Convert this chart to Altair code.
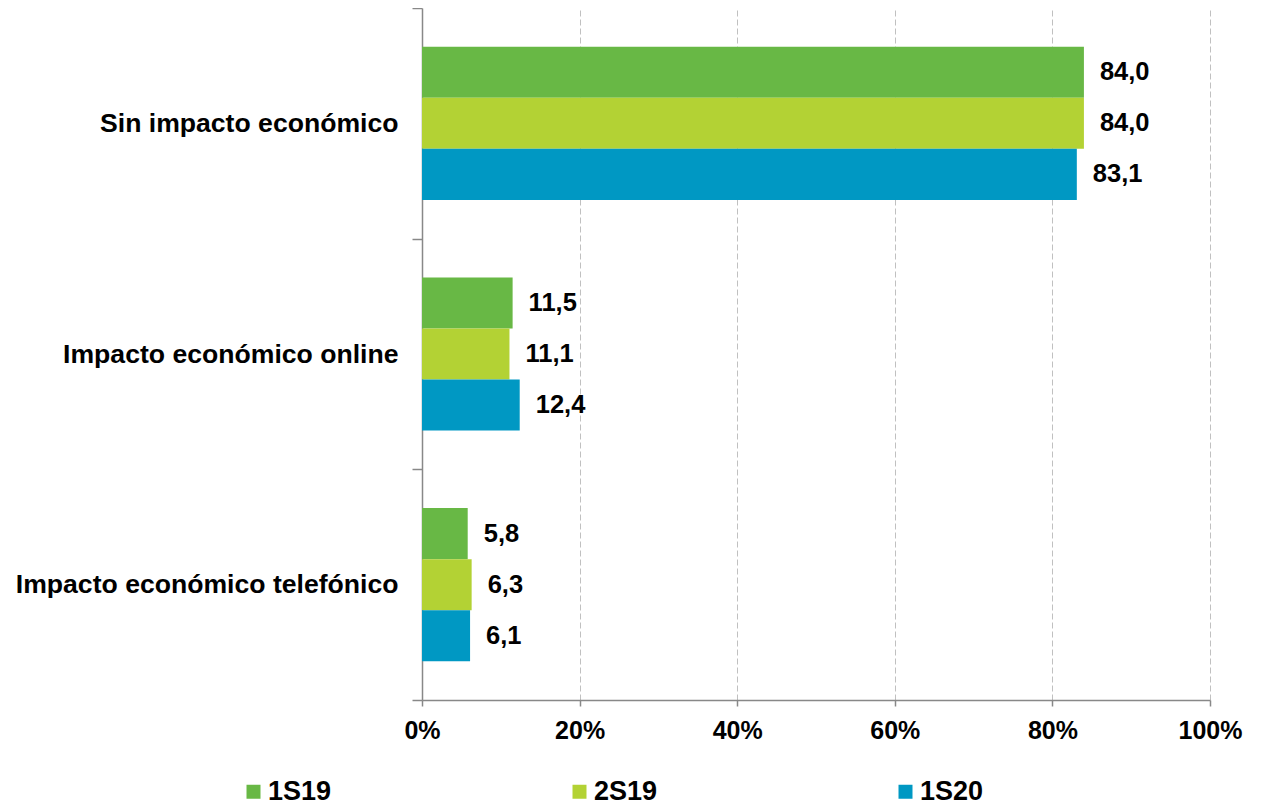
import altair as alt
import pandas as pd

categories = ["Sin impacto económico", "Impacto económico online", "Impacto económico telefónico"]
series = ["1S19", "2S19", "1S20"]
values_1S19 = [84.0, 11.5, 5.8]
values_2S19 = [84.0, 11.1, 6.3]
values_1S20 = [83.1, 12.4, 6.1]
colors = ["#68b845", "#b3d234", "#0098c3"]
x_ticks = [0, 20, 40, 60, 80, 100]

rows = []
for s, vals in zip(series, [values_1S19, values_2S19, values_1S20]):
    for c, v in zip(categories, vals):
        rows.append({"categoria": c, "serie": s, "valor": v,
                     "etiqueta": f"{v:.1f}".replace(".", ",")})
df = pd.DataFrame(rows)

FONT = "Liberation Sans"
AXIS_GRAY = "#888888"

y = alt.Y("categoria:N", sort=categories,
          scale=alt.Scale(paddingInner=0, paddingOuter=0),
          axis=alt.Axis(title=None, tickBand="extent", labelFont=FONT, labelFontSize=26.6,
                        labelFontWeight="bold", labelColor="black", labelPadding=14,
                        tickSize=10, tickColor=AXIS_GRAY, tickWidth=1.5,
                        domainColor=AXIS_GRAY, domainWidth=1.5, labelLimit=600, grid=False))
yoff = alt.YOffset("serie:N", sort=series,
                   scale=alt.Scale(paddingOuter=0.76, paddingInner=0))
x = alt.X("valor:Q", scale=alt.Scale(domain=[0, 100], nice=False),
          axis=alt.Axis(values=x_ticks, labelExpr="datum.value + '%'", title=None,
                        grid=True, gridDash=[6, 3], gridColor="#c0c0c0", gridWidth=1,
                        tickSize=6, tickColor=AXIS_GRAY, tickWidth=1.5,
                        domainColor=AXIS_GRAY, domainWidth=1.5,
                        labelFont=FONT, labelFontSize=25, labelFontWeight="bold",
                        labelColor="black", labelPadding=12, labelFlush=False))
color = alt.Color("serie:N", sort=series,
                  scale=alt.Scale(domain=series, range=colors),
                  legend=alt.Legend(title=None, orient="none", legendX=-182, legendY=770,
                                    direction="horizontal", symbolType="square",
                                    symbolSize=196, symbolStrokeWidth=0,
                                    labelFont=FONT, labelFontSize=27, labelFontWeight="bold",
                                    labelColor="black", labelOffset=1, columnPadding=234,
                                    padding=0))

base = alt.Chart(df)
bars = base.mark_bar().encode(x=x, y=y, yOffset=yoff, color=color)
text = base.mark_text(align="left", baseline="middle", dx=16, font=FONT, fontSize=25.5,
                      fontWeight="bold", color="black").encode(
    x=x, y=y, yOffset=yoff, text="etiqueta:N")

chart = alt.layer(bars, text).properties(
    width=788, height=692,
    autosize=alt.AutoSizeParams(type="none"),
    padding={"left": 414, "top": 0, "right": 35, "bottom": 107},
    background="white",
).configure_view(stroke=None)

chart.save("out.html", embed_options={"renderer": "svg", "actions": False})
